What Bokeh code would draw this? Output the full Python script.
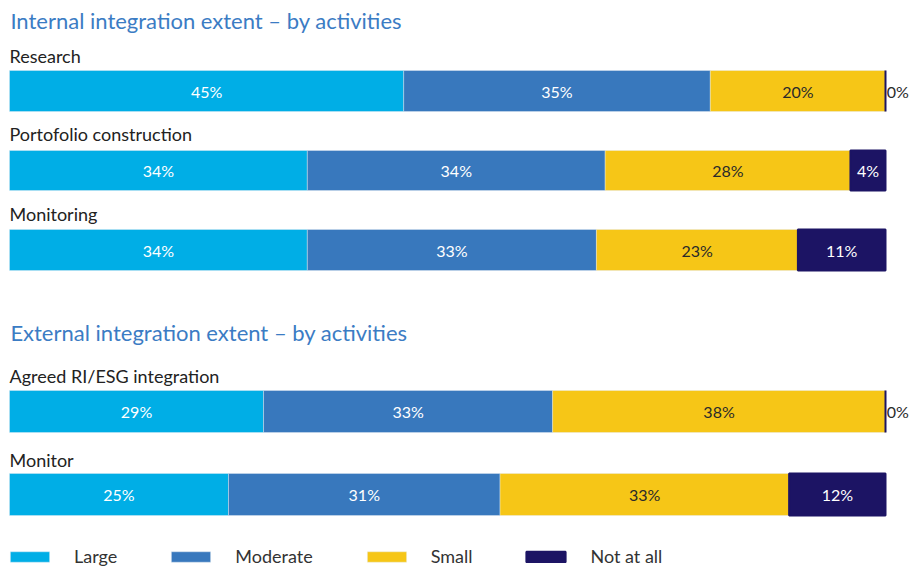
from bokeh.plotting import figure
from bokeh.models import Range1d, ColumnDataSource, Legend, LegendItem
from bokeh.core.properties import value
from bokeh.embed import file_html
from bokeh.resources import INLINE

# ---- data ----
section_titles = ["Internal integration extent \u2013 by activities",
                  "External integration extent \u2013 by activities"]
categories = ["Research", "Portofolio construction", "Monitoring",
              "Agreed RI/ESG integration", "Monitor"]
series = ["Large", "Moderate", "Small", "Not at all"]
large = [45, 34, 34, 29, 25]
moderate = [35, 34, 33, 33, 31]
small = [20, 28, 23, 38, 33]
not_at_all = [0, 4, 11, 0, 12]

# ---- styling / layout ----
colors = ["#00AEE6", "#3878BD", "#F6C617", "#1C1464"]
label_colors = ["white", "white", "#2a2a2a", "white"]
FONT = "Lato"
W, H = 909, 567
PX = 8.76                                  # px per percent
bar_y = [90.5, 170, 249.5, 411, 494]       # canvas-px row centres (layout)
bar_h = [41, 40, 41, 42, 42]
cat_y = [55, 133, 213, 375.5, 459]
title_y = [20, 332]

p = figure(width=W, height=H, output_backend="svg", toolbar_location=None,
           x_range=Range1d(-9 / PX, (W - 9) / PX), y_range=Range1d(H, 0),
           min_border=0)
p.axis.visible = False
p.grid.visible = False
p.outline_line_color = None
p.background_fill_color = "white"

vals = [large, moderate, small, not_at_all]
left = [0.0] * len(categories)
renderers = []
lab_x, lab_y, lab_t, lab_c, lab_align = [], [], [], [], []
for si, (name, v) in enumerate(zip(series, vals)):
    right = [min(l + x, 100.0) for l, x in zip(left, v)]
    src = ColumnDataSource(dict(y=bar_y, h=bar_h, left=list(left), right=right))
    lc = colors[si] if si == 3 else "#e6edf5"
    lw = 2 if si == 3 else 0.5
    r = p.hbar(y="y", height="h", left="left", right="right", source=src,
               fill_color=colors[si], line_color=lc, line_width=lw,
               line_alpha=1 if si == 3 else 0.8)
    renderers.append(r)
    for i, x in enumerate(v):
        if x > 0:
            lab_x.append((left[i] + right[i]) / 2)
            lab_align.append("center")
            lab_c.append(label_colors[si])
        else:
            lab_x.append(100.15)
            lab_align.append("left")
            lab_c.append("#2a2a2a")
        lab_y.append(bar_y[i])
        lab_t.append(f"{x}%")
    left = right

lsrc = ColumnDataSource(dict(x=lab_x, y=lab_y, t=lab_t, c=lab_c, a=lab_align))
p.text(x="x", y="y", text="t", text_color="c", text_align="a", source=lsrc,
       text_baseline="middle", text_font=value(FONT), text_font_size="16px")

# category labels
p.text(x=[0] * len(categories), y=cat_y, text=categories,
       text_baseline="middle", text_align="left", text_font=value(FONT),
       text_font_size="18px", text_color="#222222")
# section titles
p.text(x=[0.1] * 2, y=title_y, text=section_titles,
       text_baseline="middle", text_align="left", text_font=value(FONT),
       text_font_size="22px", text_color="#3B7CC4")

legend = Legend(items=[LegendItem(label=s, renderers=[r]) for s, r in zip(series, renderers)],
                orientation="horizontal", location=(5, 0),
                glyph_width=49, glyph_height=13, label_standoff=20, spacing=49,
                padding=0, margin=0, border_line_color=None,
                background_fill_alpha=0,
                label_text_font=FONT, label_text_font_size="18px",
                label_text_color="#333333")
p.add_layout(legend, "center")

open("out.html", "w").write(file_html(p, INLINE))
